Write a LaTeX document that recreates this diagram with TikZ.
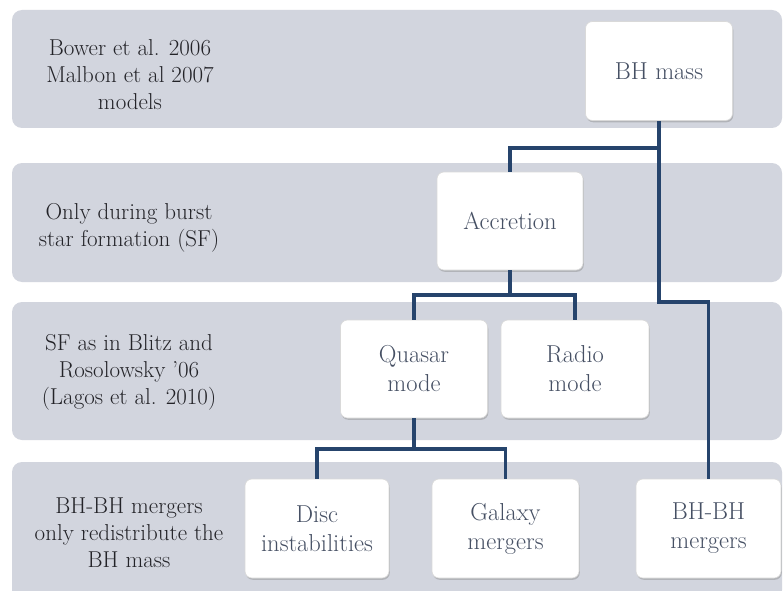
\documentclass[tikz,border=0pt]{standalone}
\usetikzlibrary{shadows}
\definecolor{bandgray}{RGB}{210,213,222}
\definecolor{linkblue}{RGB}{38,68,108}
\definecolor{boxtext}{RGB}{70,80,100}
\definecolor{sidetext}{RGB}{35,35,40}
\tikzset{
  band/.style={fill=bandgray, draw=none, rounded corners=10pt},
  bhbox/.style={fill=white, draw=black!15, line width=0.6pt, rounded corners=7pt,
    drop shadow={shadow xshift=0.8pt, shadow yshift=-1.8pt, opacity=0.4, fill=black!50},
    text=boxtext, align=center, font=\fontsize{24.5}{29}\selectfont, inner sep=0pt},
  sidelabel/.style={text=sidetext, align=center, font=\fontsize{23}{27}\selectfont},
  link/.style={draw=linkblue, line width=3.3pt}
}
\begin{document}
\begin{tikzpicture}[x=1pt,y=-1pt]
\useasboundingbox (0,0) rectangle (784,591);
\fill[white] (0,0) rectangle (784,591);
% bands
\path[band] (12,10) rectangle (782,128);
\path[band] (12,163) rectangle (782,282);
\path[band] (12,302) rectangle (782,440);
\path[band] (12,462) rectangle (782,600);
% side labels
\node[sidelabel] (l1) at (130,75) {Bower et al. 2006\\Malbon et al 2007\\models};
\node[sidelabel] (l2) at (129,228) {Only during burst\\star formation (SF)};
\node[sidelabel] (l3) at (129,372) {SF as in Blitz and\\Rosolowsky '06\\(Lagos et al. 2010)};
\node[sidelabel] (l4) at (129,533) {BH-BH mergers\\only redistribute the\\BH mass};
% junction points
\coordinate (j1) at (659,148);
\coordinate (j2) at (510,295);
\coordinate (j3) at (414,449);
\coordinate (k1) at (659,302);
\coordinate (k2) at (708.5,302);
% boxes
\node[bhbox, minimum width=147pt, minimum height=99pt] (bh) at (659,71) {BH mass};
\node[bhbox, minimum width=146pt, minimum height=98pt] (acc) at (510,221) {Accretion};
\node[bhbox, minimum width=147pt, minimum height=98pt] (qso) at (414,369) {Quasar\\mode};
\node[bhbox, minimum width=148pt, minimum height=98pt] (radio) at (575,369) {Radio\\mode};
\node[bhbox, minimum width=144pt, minimum height=99pt] (disc) at (317,528.5) {Disc\\instabilities};
\node[bhbox, minimum width=147pt, minimum height=99pt] (gal) at (505.5,528.5) {Galaxy\\mergers};
\node[bhbox, minimum width=145pt, minimum height=99pt] (bhbh) at (708.5,528.5) {BH-BH\\mergers};
% links
\draw[link] (bh.south) -- (j1) -| (acc.north);
\draw[link] (j1) -- (k1) -- (k2) -- (bhbh.north);
\draw[link] (acc.south) -- (j2);
\draw[link] (qso.north) |- (j2) -| (radio.north);
\draw[link] (qso.south) -- (j3);
\draw[link] (disc.north) |- (j3) -| (gal.north);
\end{tikzpicture}
\end{document}
